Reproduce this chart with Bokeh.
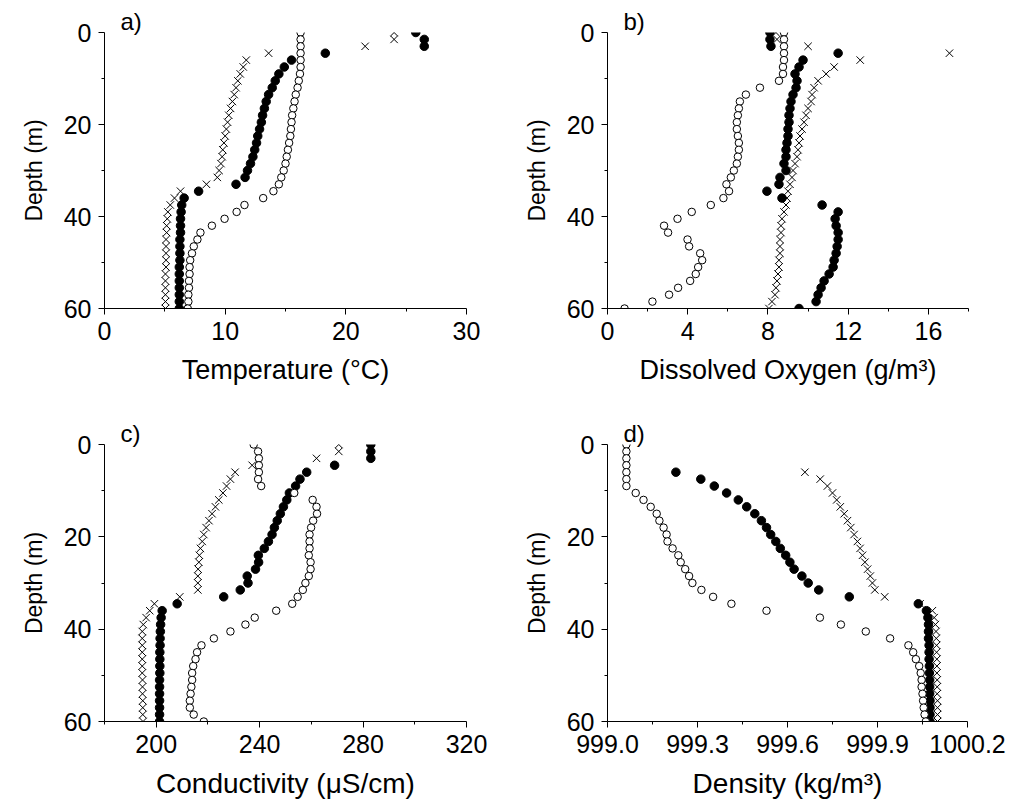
from bokeh.plotting import figure
from bokeh.layouts import column, row
from bokeh.models import Range1d, FixedTicker, PrintfTickFormatter
from bokeh.embed import file_html
from bokeh.resources import INLINE

# ---------------- data ----------------
DEPTH = [0, 1.5, 3, 4.5, 6, 7.5, 9, 10.5, 12, 13.5, 15, 16.5, 18, 19.5, 21, 22.5,
         24, 25.5, 27, 28.5, 30, 31.5, 33, 34.5, 36, 37.5, 39, 40.5, 42, 43.5, 45,
         46.5, 48, 49.5, 51, 52.5, 54, 55.5, 57, 58.5, 60]
DEPTH_D = [6, 7.5, 9, 10.5, 12, 13.5, 15, 16.5, 18, 19.5, 21, 22.5,
           24, 25.5, 27, 28.5, 30, 31.5, 33, 34.5, 36, 37.5, 39, 40.5, 42, 43.5, 45,
           46.5, 48, 49.5, 51, 52.5, 54, 55.5, 57, 58.5, 60]

# a) Temperature
temp_filled = [25.8, 26.5, 26.5, 18.3, 15.5, 14.9, 14.45, 14.15, 13.9, 13.6, 13.4, 13.25,
               13.1, 13.0, 12.85, 12.7, 12.6, 12.45, 12.3, 12.1, 11.85, 11.65, 10.9, 7.8,
               6.6, 6.4, 6.35, 6.3, 6.3, 6.3, 6.25, 6.25, 6.25, 6.25, 6.2, 6.2, 6.2, 6.2,
               6.2, 6.2, 6.2]
temp_open = [16.25, 16.25, 16.25, 16.25, 16.25, 16.25, 16.2, 16.1, 16.0, 15.85, 15.75,
             15.65, 15.55, 15.5, 15.45, 15.4, 15.3, 15.2, 15.1, 15.0, 14.85, 14.65, 14.45,
             14.0, 13.15, 11.6, 10.95, 9.95, 8.9, 7.95, 7.7, 7.4, 7.25, 7.1, 7.05, 7.05,
             7.0, 7.0, 6.95, 6.95, 6.9]
temp_cross = [24.0, 24.0, 21.6, 13.6, 11.75, 11.5, 11.25, 11.05, 10.9, 10.75, 10.6, 10.45,
              10.3, 10.2, 10.1, 10.0, 9.9, 9.8, 9.75, 9.65, 9.5, 9.35, 8.45, 6.3, 5.8,
              5.45, 5.25, 5.2, 5.15, 5.15, 5.1, 5.1, 5.1, 5.1, 5.1, 5.05, 5.05, 5.05, 5.05,
              5.05, 5.05]

# b) Dissolved oxygen
do_filled = [8.1, 8.1, 8.15, 11.5, 9.75, 9.55, 9.35, 9.45, 9.4, 9.25, 9.15, 9.1, 9.05,
             9.05, 9.0, 9.0, 8.95, 8.9, 8.9, 8.8, 8.9, 8.6, 8.55, 7.95, 8.7, 10.7, 11.5,
             11.35, 11.4, 11.5, 11.5, 11.45, 11.4, 11.3, 11.25, 11.05, 10.8, 10.65, 10.5,
             10.4, 9.55]
do_open = [8.8, 8.8, 8.8, 8.8, 8.8, 8.75, 8.75, 8.55, 7.6, 6.9, 6.6, 6.55, 6.5, 6.45,
           6.45, 6.5, 6.55, 6.55, 6.5, 6.45, 6.3, 6.15, 5.93, 6.06, 5.78, 5.15, 4.2, 3.49,
           2.82, 3.02, 3.99, 4.07, 4.62, 4.72, 4.52, 4.4, 4.12, 3.52, 3.07, 2.24, 0.85]
do_cross = [8.4, 8.45, 10.0, 17.05, 12.6, 11.3, 10.9, 10.5, 10.3, 10.2, 10.15, 10.0, 9.9,
            9.8, 9.7, 9.6, 9.55, 9.5, 9.45, 9.35, 9.25, 9.2, 9.1, 9.0, 8.95, 8.9, 8.8, 8.7,
            8.65, 8.65, 8.6, 8.6, 8.6, 8.55, 8.55, 8.5, 8.45, 8.4, 8.35, 8.2, 8.05]

# c) Conductivity
cond_filled = [283.0, 283.0, 283.0, 269.0, 258.2, 255.6, 253.9, 251.5, 250.5, 249.2,
               248.0, 246.8, 245.7, 244.8, 243.4, 241.8, 239.5, 239.6, 238.4, 235.2,
               235.5, 232.5, 226.1, 208.1, 202.3, 201.9, 201.7, 201.6, 201.5, 201.5,
               201.4, 201.4, 201.4, 201.4, 201.3, 201.3, 201.3, 201.3, 201.3, 201.3, 201.3]
cond_open = [237.7, 239.4, 239.7, 239.7, 239.7, 239.4, 240.6, 253.4, 260.5, 262.0, 262.2,
             260.7, 259.9, 259.3, 259.3, 259.3, 259.0, 259.7, 259.7, 259.0, 257.7, 256.7,
             254.7, 252.6, 246.4, 238.1, 234.5, 228.7, 222.3, 217.5, 215.8, 215.2, 214.3,
             213.9, 213.9, 213.6, 213.3, 213.0, 213.0, 214.5, 218.4]
cond_cross = [270.6, 270.6, 262.0, 237.1, 230.5, 228.7, 227.2, 225.8, 224.2, 222.9, 221.6,
              220.4, 219.3, 218.4, 217.8, 217.1, 216.7, 216.5, 216.2, 216.1, 216.1, 216.1,
              209.1, 199.3, 197.5, 196.1, 195.0, 194.6, 194.6, 194.6, 194.6, 194.6, 194.6,
              194.6, 194.7, 194.7, 194.7, 194.8, 194.8, 194.8, 194.9]

# d) Density
dens_filled = [999.228, 999.311, 999.356, 999.397, 999.436, 999.464, 999.491, 999.513,
               999.530, 999.544, 999.561, 999.576, 999.594, 999.608, 999.622, 999.648,
               999.669, 999.704, 999.806, 1000.036, 1000.063, 1000.068, 1000.070,
               1000.070, 1000.070, 1000.072, 1000.072, 1000.072, 1000.073, 1000.073,
               1000.074, 1000.074, 1000.074, 1000.075, 1000.075, 1000.075, 1000.075]
dens_open = [999.063, 999.063, 999.063, 999.063, 999.063, 999.063, 999.063, 999.094,
             999.120, 999.144, 999.164, 999.173, 999.187, 999.197, 999.200, 999.217,
             999.236, 999.244, 999.259, 999.272, 999.283, 999.313, 999.352, 999.413,
             999.530, 999.708, 999.778, 999.861, 999.942, 1000.003, 1000.019, 1000.028,
             1000.039, 1000.044, 1000.047, 1000.047, 1000.050, 1000.052, 1000.054,
             1000.057, 1000.061]
dens_cross = [999.658, 999.709, 999.733, 999.750, 999.764, 999.776, 999.789, 999.800,
              999.811, 999.822, 999.833, 999.842, 999.850, 999.858, 999.867, 999.876,
              999.883, 999.891, 999.924, 1000.042, 1000.083, 1000.089, 1000.093,
              1000.095, 1000.096, 1000.097, 1000.097, 1000.098, 1000.098, 1000.098,
              1000.099, 1000.099, 1000.099, 1000.100, 1000.100, 1000.100, 1000.100]

DEPTH_TICKS = [0, 20, 40, 60]
DEPTH_MINOR = [10, 30, 50]

FONT = "Liberation Sans"


def make_panel(letter, xlabel, xr, xticks, xminor, series, w, h, bl, br, bt, bb,
               tick_fs, xlab_fs, fmt=None):
    p = figure(width=w, height=h, output_backend="svg", toolbar_location=None,
               x_range=Range1d(*xr), y_range=Range1d(60, 0),
               min_border_left=bl, min_border_right=br, min_border_top=bt,
               min_border_bottom=bb)
    p.outline_line_color = None
    p.xgrid.visible = False
    p.ygrid.visible = False
    p.background_fill_color = "white"
    p.border_fill_color = "white"
    # panel letter as a left-aligned title just above the frame
    p.title.text = letter
    p.title.align = "left"
    p.title.offset = 16
    p.title.standoff = -5
    p.title.text_font = FONT
    p.title.text_font_size = "24px"
    p.title.text_font_style = "normal"
    p.title.text_color = "black"
    (xf, xfd), (xo, xod), (xc, xcd) = series
    p.scatter(xf, xfd, marker="circle", size=8.5, fill_color="black", line_color="black")
    p.scatter(xo, xod, marker="circle", size=7.5, fill_color="white", line_color="black",
              line_width=1)
    p.scatter(xc, xcd, marker="x", size=10.5, line_color="black", line_width=1)
    p.xaxis.ticker = FixedTicker(ticks=xticks, minor_ticks=xminor)
    p.yaxis.ticker = FixedTicker(ticks=DEPTH_TICKS, minor_ticks=DEPTH_MINOR)
    if fmt:
        p.xaxis.formatter = PrintfTickFormatter(format=fmt)
    p.xaxis.axis_label = xlabel
    p.yaxis.axis_label = "Depth (m)"
    for ax in (p.xaxis[0], p.yaxis[0]):
        ax.axis_line_color = "black"
        ax.axis_line_width = 1
        ax.major_tick_line_color = "black"
        ax.minor_tick_line_color = "black"
        ax.major_tick_out = 6
        ax.major_tick_in = 0
        ax.minor_tick_out = 3
        ax.minor_tick_in = 0
        ax.major_label_text_font = FONT
        ax.major_label_text_font_size = tick_fs
        ax.major_label_text_color = "black"
        ax.major_label_standoff = 7
        ax.axis_label_text_font = FONT
        ax.axis_label_text_font_style = "normal"
        ax.axis_label_text_color = "black"
    p.xaxis.axis_label_text_font_size = xlab_fs
    p.xaxis.axis_label_standoff = 12
    p.yaxis.axis_label_text_font_size = "23px"
    p.yaxis.axis_label_standoff = 14
    return p


pa = make_panel("a)", "Temperature (°C)", (0, 30), [0, 10, 20, 30], [5, 15, 25],
                [(temp_filled, DEPTH), (temp_open, DEPTH), (temp_cross, DEPTH)],
                508, 412, 104, 42, 32, 104, "25px", "27px")
pb = make_panel("b)", "Dissolved Oxygen (g/m³)", (0, 18), [0, 4, 8, 12, 16],
                [2, 6, 10, 14, 18],
                [(do_filled, DEPTH), (do_open, DEPTH), (do_cross, DEPTH)],
                506, 412, 99, 46, 32, 104, "25px", "27px")
pc = make_panel("c)", "Conductivity (μS/cm)", (180, 320), [200, 240, 280, 320],
                [180, 220, 260, 300],
                [(cond_filled, DEPTH), (cond_open, DEPTH), (cond_cross, DEPTH)],
                508, 393, 104, 42, 32, 84, "25px", "28px")
pd_ = make_panel("d)", "Density (kg/m³)", (999.0, 1000.2),
                 [999.0, 999.3, 999.6, 999.9, 1000.2],
                 [999.15, 999.45, 999.75, 1000.05],
                 [(dens_filled, DEPTH_D), (dens_open, DEPTH), (dens_cross, DEPTH_D)],
                 506, 393, 99, 47, 32, 84, "25px", "28px", fmt="%.1f")

layout = column(row(pa, pb), row(pc, pd_))
open("out.html", "w").write(file_html(layout, INLINE))
